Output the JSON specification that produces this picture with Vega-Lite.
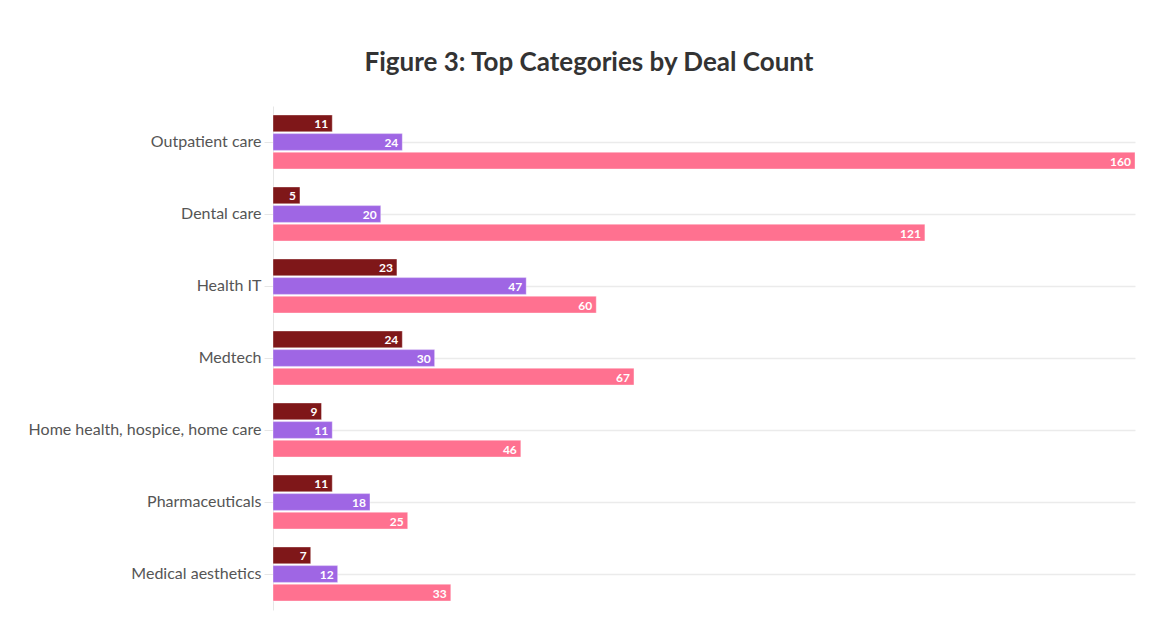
{
  "$schema": "https://vega.github.io/schema/vega-lite/v6.json",
  "width": 862,
  "height": 504,
  "autosize": {"type": "none"},
  "padding": {"left": 273, "top": 106, "right": 28, "bottom": 28},
  "background": "white",
  "title": {
    "text": "Figure 3: Top Categories by Deal Count",
    "font": "Lato",
    "fontSize": 26,
    "fontWeight": "bold",
    "color": "#333333",
    "anchor": "middle",
    "dx": -115,
    "offset": 30
  },
  "data": {
    "values": [
      {"category": "Outpatient care", "series": "Series 1", "deals": 11},
      {"category": "Outpatient care", "series": "Series 2", "deals": 24},
      {"category": "Outpatient care", "series": "Series 3", "deals": 160},
      {"category": "Dental care", "series": "Series 1", "deals": 5},
      {"category": "Dental care", "series": "Series 2", "deals": 20},
      {"category": "Dental care", "series": "Series 3", "deals": 121},
      {"category": "Health IT", "series": "Series 1", "deals": 23},
      {"category": "Health IT", "series": "Series 2", "deals": 47},
      {"category": "Health IT", "series": "Series 3", "deals": 60},
      {"category": "Medtech", "series": "Series 1", "deals": 24},
      {"category": "Medtech", "series": "Series 2", "deals": 30},
      {"category": "Medtech", "series": "Series 3", "deals": 67},
      {"category": "Home health, hospice, home care", "series": "Series 1", "deals": 9},
      {"category": "Home health, hospice, home care", "series": "Series 2", "deals": 11},
      {"category": "Home health, hospice, home care", "series": "Series 3", "deals": 46},
      {"category": "Pharmaceuticals", "series": "Series 1", "deals": 11},
      {"category": "Pharmaceuticals", "series": "Series 2", "deals": 18},
      {"category": "Pharmaceuticals", "series": "Series 3", "deals": 25},
      {"category": "Medical aesthetics", "series": "Series 1", "deals": 7},
      {"category": "Medical aesthetics", "series": "Series 2", "deals": 12},
      {"category": "Medical aesthetics", "series": "Series 3", "deals": 33}
    ]
  },
  "encoding": {
    "y": {
      "field": "category",
      "type": "nominal",
      "sort": null,
      "title": null,
      "scale": {"paddingInner": 0.25, "paddingOuter": 0.125},
      "axis": {
        "labelFont": "Lato",
        "labelFontSize": 16,
        "labelLimit": 400,
        "labelColor": "#555555",
        "labelPadding": 3,
        "tickColor": "#e6e6e6",
        "tickSize": 9,
        "domainColor": "#e6e6e6",
        "domainWidth": 1,
        "grid": true,
        "gridColor": "#ebebeb",
        "gridWidth": 1.5
      }
    },
    "yOffset": {
      "field": "series",
      "type": "nominal",
      "sort": ["Series 1", "Series 2", "Series 3"],
      "scale": {"paddingInner": 0.1, "paddingOuter": 0}
    },
    "x": {
      "field": "deals",
      "type": "quantitative",
      "scale": {"domain": [0, 160], "nice": false},
      "axis": null
    }
  },
  "layer": [
    {
      "mark": {"type": "bar", "stroke": "#ffffff", "strokeWidth": 0.6, "strokeOpacity": 0.6},
      "encoding": {
        "color": {
          "field": "series",
          "type": "nominal",
          "scale": {"domain": ["Series 1", "Series 2", "Series 3"], "range": ["#7f1719", "#9f66e4", "#ff7190"]},
          "legend": null
        }
      }
    },
    {
      "mark": {"type": "text", "align": "right", "baseline": "middle", "dx": -4, "dy": 1, "font": "Lato", "fontSize": 12, "fontWeight": "bold", "color": "white"},
      "encoding": {
        "text": {"field": "deals", "type": "quantitative"}
      }
    }
  ],
  "config": {
    "view": {"stroke": null}
  }
}
